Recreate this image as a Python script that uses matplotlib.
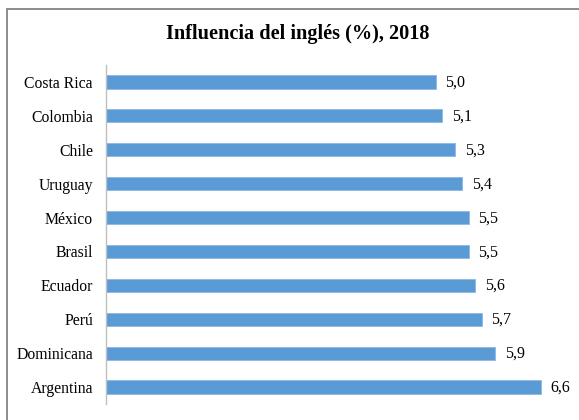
import matplotlib
matplotlib.use("Agg")
import matplotlib.pyplot as plt
from matplotlib.patches import Rectangle

countries = ["Costa Rica", "Colombia", "Chile", "Uruguay", "México", "Brasil",
             "Ecuador", "Perú", "Dominicana", "Argentina"]
values = [5.0, 5.1, 5.3, 5.4, 5.5, 5.5, 5.6, 5.7, 5.9, 6.6]
title = "Influencia del inglés (%), 2018"

plt.rcParams['font.family'] = ['Liberation Serif', 'DejaVu Serif']

W, H = 579, 420
fig = plt.figure(figsize=(W / 100, H / 100), dpi=100)
ax = fig.add_axes([105.5 / W, 1 - 404 / H, 462 / W, 339 / H])

y = list(range(len(countries)))
ax.barh(y, values, height=0.39, color="#5B9BD5", edgecolor="#8DB8E3", linewidth=0.6)
ax.set_ylim(len(countries) - 0.5, -0.5)
ax.set_xlim(0, 7)
ax.set_yticks(y)
ax.set_yticklabels(countries, fontsize=11.3)
ax.tick_params(axis='y', length=0, pad=9)
ax.set_xticks([])
for s in ["top", "right", "bottom"]:
    ax.spines[s].set_visible(False)
ax.spines["left"].set_color("#BFBFBF")
ax.spines["left"].set_linewidth(1.0)

for yi, v in zip(y, values):
    ax.annotate(f"{v:.1f}".replace(".", ","), xy=(v, yi), xytext=(7, -0.5),
                textcoords="offset points", va="center", ha="left", fontsize=11.5)

fig.text(298 / W, 1 - 34 / H, title, ha="center", va="center",
         fontsize=14.6, fontweight="bold")

fig.patches.append(Rectangle((7 / W, -0.1), 1.2, 1 + 0.1 - 9 / H,
                             transform=fig.transFigure, fill=False,
                             edgecolor="#8C8C8C", linewidth=1.4))

fig.savefig("out.png", dpi=100)
